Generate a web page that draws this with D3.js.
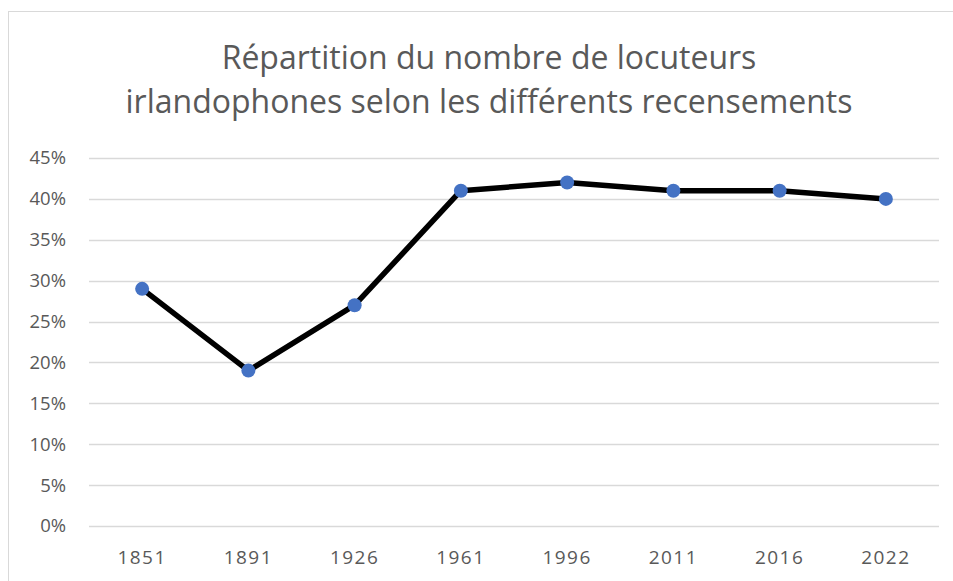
<!DOCTYPE html>
<html>
<head>
<meta charset="utf-8">
<script src="https://cdn.jsdelivr.net/npm/d3@7"></script>
<style>
  body { margin: 0; background: #fff; }
  text { font-family: "Open Sans", "Noto Sans", sans-serif; fill: #595959; }
</style>
</head>
<body>
<div id="chart"></div>
<script>
var years = ["1851", "1891", "1926", "1961", "1996", "2011", "2016", "2022"];
var shares = [29, 19, 27, 41, 42, 41, 41, 40];
var yTicks = [0, 5, 10, 15, 20, 25, 30, 35, 40, 45];
var titleLines = ["Répartition du nombre de locuteurs", "irlandophones selon les différents recensements"];

var width = 953, height = 581;
var plotLeft = 89, plotRight = 939, plotTop = 158, plotBottom = 526;

var svg = d3.select("#chart").append("svg")
  .attr("width", width)
  .attr("height", height);

// chart frame
svg.append("rect")
  .attr("x", 8.5).attr("y", 11.5)
  .attr("width", 980).attr("height", 600)
  .attr("fill", "none")
  .attr("stroke", "#d9d9d9");

var x = d3.scaleBand().domain(years).range([plotLeft, plotRight]);
var y = d3.scaleLinear().domain([0, 45]).range([plotBottom, plotTop]);

// gridlines
svg.append("g")
  .selectAll("line")
  .data(yTicks)
  .enter().append("line")
  .attr("x1", plotLeft).attr("x2", plotRight)
  .attr("y1", function(d) { return Math.round(y(d)) + 0.5; })
  .attr("y2", function(d) { return Math.round(y(d)) + 0.5; })
  .attr("stroke", "#d9d9d9")
  .attr("stroke-width", 1.3);

// y labels
svg.append("g")
  .selectAll("text")
  .data(yTicks)
  .enter().append("text")
  .attr("x", 66)
  .attr("y", function(d) { return y(d); })
  .attr("dy", "0.35em")
  .attr("text-anchor", "end")
  .attr("font-size", 18.5)
  .text(function(d) { return d + "%"; });

// x labels
svg.append("g")
  .selectAll("text")
  .data(years)
  .enter().append("text")
  .attr("x", function(d) { return x(d) + x.bandwidth() / 2; })
  .attr("y", 564)
  .attr("text-anchor", "middle")
  .attr("font-size", 19)
  .attr("letter-spacing", 1.5)
  .text(function(d) { return d; });

// title
svg.append("g")
  .selectAll("text")
  .data(titleLines)
  .enter().append("text")
  .attr("x", 489)
  .attr("y", function(d, i) { return 69 + i * 44; })
  .attr("text-anchor", "middle")
  .attr("font-size", 32)
  .text(function(d) { return d; });

var pts = years.map(function(d, i) { return { year: d, v: shares[i] }; });

var line = d3.line()
  .x(function(d) { return x(d.year) + x.bandwidth() / 2; })
  .y(function(d) { return y(d.v); });

svg.append("path")
  .datum(pts)
  .attr("d", line)
  .attr("fill", "none")
  .attr("stroke", "#000")
  .attr("stroke-width", 5.5)
  .attr("stroke-linejoin", "round");

svg.append("g")
  .selectAll("circle")
  .data(pts)
  .enter().append("circle")
  .attr("cx", function(d) { return x(d.year) + x.bandwidth() / 2; })
  .attr("cy", function(d) { return y(d.v); })
  .attr("r", 7)
  .attr("fill", "#4472c4");
</script>
</body>
</html>
